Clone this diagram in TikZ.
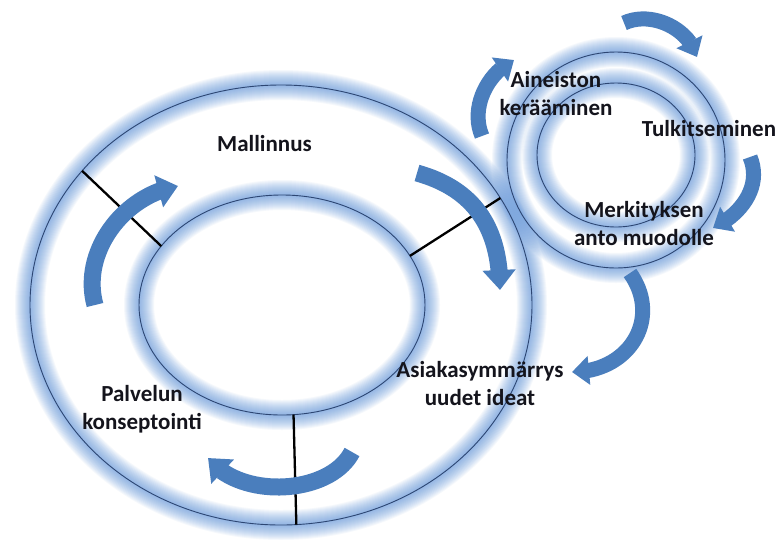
\documentclass[tikz,border=0pt]{standalone}
\usepackage{fontspec}
\setmainfont{Carlito}
\usetikzlibrary{arrows.meta,bending,shapes.geometric}

\definecolor{ringline}{RGB}{45,70,115}
\definecolor{glowblue}{RGB}{80,138,215}
\definecolor{arrowblue}{RGB}{74,126,189}
\definecolor{labeltext}{RGB}{20,20,28}

\tikzset{
  halo/.style={draw=glowblue, line width=#1, opacity=0.055},
  ringedge/.style={draw=ringline, line width=0.9pt, ellipse, inner sep=0pt, outer sep=0pt},
  divider/.style={draw=black, line width=2.3pt},
  bigarrow/.style={draw=arrowblue, line width=17pt, -{Triangle[length=20pt,width=32pt]}},
  smallarrow/.style={draw=arrowblue, line width=15pt, -{Triangle[length=17pt,width=28pt]}},
  lbl/.style={text=labeltext, font=\fontsize{23}{28}\selectfont\bfseries, align=center, inner sep=0pt},
}

% soft blue glow around an ellipse: centre, x radius, y radius
\newcommand{\ringhalo}[3]{%
  \foreach \w in {2,4,...,30}{\draw[halo=\w pt] (#1) ellipse[x radius=#2, y radius=#3];}}

\begin{document}
\begin{tikzpicture}[x=1pt,y=-1pt]
  \fill[white] (0,0) rectangle (781,539);
  \useasboundingbox (0,0) rectangle (781,539);

  % centres of the two cycles
  \coordinate (bigc) at (281,305);
  \coordinate (bigic) at (282,305);
  \coordinate (smallc) at (616,160);
  \coordinate (smallic) at (616,155);

  % glows
  \ringhalo{bigc}{251}{220}
  \ringhalo{bigic}{143}{110}
  \ringhalo{smallc}{109}{108}
  \ringhalo{smallic}{79}{72}

  % ring outlines
  \node[ringedge, minimum width=502pt, minimum height=440pt] (outerring) at (bigc) {};
  \node[ringedge, minimum width=286pt, minimum height=220pt] (innerring) at (bigic) {};
  \node[ringedge, minimum width=218pt, minimum height=216pt] (smallouter) at (smallc) {};
  \node[ringedge, minimum width=158pt, minimum height=144pt] (smallinner) at (smallic) {};

  % sector dividers of the large ring
  \draw[divider] (outerring.146.6) -- (innerring.154.2);
  \draw[divider] (innerring.21.1) -- (outerring.26.1);
  \draw[divider] (innerring.-84.8) -- (outerring.-86.9);

  % curved arrows of the large cycle
  \coordinate (a1s) at (95,305);   \coordinate (a1e) at (178,186);
  \coordinate (a2s) at (417,173);  \coordinate (a2e) at (500,290);
  \coordinate (a3s) at (352,452);  \coordinate (a3e) at (208,458);
  \draw[bigarrow] (a1s) .. controls (80.5,252) and (123.5,195) .. (a1e);
  \draw[bigarrow] (a2s) .. controls (478,190) and (500,232) .. (a2e);
  \draw[bigarrow] (a3s) .. controls (330,495) and (240,500) .. (a3e);

  % curved arrows of the small cycle
  \coordinate (a4s) at (482,136);  \coordinate (a4e) at (514,60);
  \coordinate (a5s) at (624,23);   \coordinate (a5e) at (697,57);
  \coordinate (a6s) at (750,157);  \coordinate (a6e) at (713,228);
  \coordinate (a7s) at (630,273);  \coordinate (a7e) at (572,372);
  \draw[smallarrow] (a4s) .. controls (470,108) and (487,73) .. (a4e);
  \draw[smallarrow] (a5s) .. controls (651,10.5) and (689,28) .. (a5e);
  \draw[smallarrow] (a6s) .. controls (762,186) and (742,214) .. (a6e);
  \draw[smallarrow] (a7s) .. controls (662,318) and (630,372) .. (a7e);

  % labels
  \node[lbl] (mallinnus) at (264.5,144) {Mallinnus};
  \node[lbl] (asiakas) at (480,384) {Asiakasymmärrys\\uudet ideat};
  \node[lbl] (palvelun) at (142,409) {Palvelun\\konseptointi};
  \node[lbl] (aineiston) at (556,94) {Aineiston\\kerääminen};
  \node[lbl] (tulkitseminen) at (709,129) {Tulkitseminen};
  \node[lbl] (merkityksen) at (644,224) {Merkityksen\\anto muodolle};
\end{tikzpicture}
\end{document}
